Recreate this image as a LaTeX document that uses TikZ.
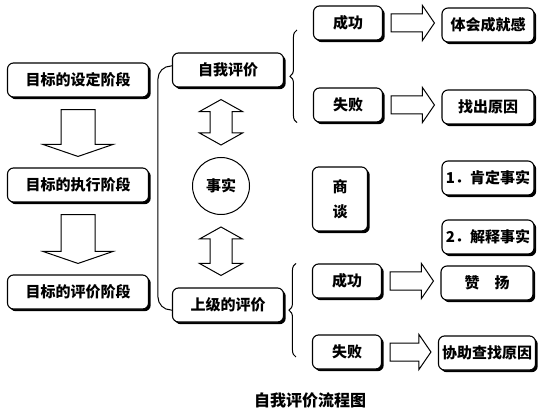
\documentclass[tikz,border=0pt]{standalone}
\usepackage{fontspec}
\newfontfamily\cjk{Noto Sans CJK SC}
\usepackage{tikz}
\usetikzlibrary{calc,%
                shadows,%
                decorations.pathreplacing}

% hollow arrows between two named boxes
\newcommand\downblock[2]{%
  \draw[BlockStyle] let \p1=(#1.south), \p2=(#2.north) in
    (\x1-17pt,\y1-12pt) -- (\x1+17pt,\y1-12pt) -- (\x1+17pt,\y2+23pt)
    -- (\x1+35pt,\y2+23pt) -- (\x1,\y2+11pt) -- (\x1-35pt,\y2+23pt)
    -- (\x1-17pt,\y2+23pt) -- cycle;}
\newcommand\rightblock[2]{%
  \draw[BlockStyle] let \p1=(#1.east), \p2=(#2.west) in
    (\x1+8pt,\y1+9pt) -- (\x2-19pt,\y1+9pt) -- (\x2-19pt,\y1+17.5pt)
    -- (\x2-7pt,\y1) -- (\x2-19pt,\y1-17.5pt) -- (\x2-19pt,\y1-9pt)
    -- (\x1+8pt,\y1-9pt) -- cycle;}
\newcommand\twinblock[3]{%
  \draw[BlockStyle] let \p1=(#1.south), \p2=(#2.north), \p3=(#3) in
    (\x3,\y1-12pt) -- (\x3+21.5pt,\y1-24pt) -- (\x3+11pt,\y1-24pt)
    -- (\x3+11pt,\y2+24pt) -- (\x3+21.5pt,\y2+24pt) -- (\x3,\y2+12pt)
    -- (\x3-21.5pt,\y2+24pt) -- (\x3-11pt,\y2+24pt) -- (\x3-11pt,\y1-24pt)
    -- (\x3-21.5pt,\y1-24pt) -- cycle;}

\begin{document}
\begin{tikzpicture}[x=1pt,y=-1pt]
  \tikzstyle{every node} = [font=\cjk\bfseries\fontsize{15}{18}\selectfont]
  \tikzstyle{BoxStyle} = [draw, line width=1.1pt, rounded corners=6pt,
                          fill=white, minimum height=34pt, inner sep=2pt,
                          drop shadow={shadow xshift=2.2pt, shadow yshift=-2.2pt,
                                       opacity=1, fill=black}]
  \tikzstyle{BlockStyle} = [draw, line width=1pt, fill=white]
  \tikzstyle{BraceStyle} = [draw, line width=1pt, decorate,
                            decoration={brace, amplitude=7pt}]
\useasboundingbox (0,0) rectangle (549,414);

% stages
\node[BoxStyle, minimum width=141pt] (setup) at (78,80) {目标的设定阶段};
\node[BoxStyle, minimum width=141pt] (doing) at (78,185) {目标的执行阶段};
\node[BoxStyle, minimum width=141pt] (judge) at (78,292) {目标的评价阶段};
\downblock{setup}{doing}
\downblock{doing}{judge}

% self and boss
\node[BoxStyle, minimum width=111pt] (self) at (228,70) {自我评价};
\node[draw, circle, line width=1pt, minimum size=57pt] (fact) at (221,186) {事实};
\node[BoxStyle, minimum width=111pt] (boss) at (228,305) {上级的评价};
\twinblock{self}{fact}{fact}
\twinblock{fact}{boss}{fact}
\draw[line width=1pt, rounded corners=13pt]
  ($(self.west)+(0,-4)$) -| ($(boss.west)+(-14,5)$) -- ($(boss.west)+(0,5)$);

% upper branch
\node[BoxStyle, minimum width=69pt] (winA) at (348,23) {成功};
\node[BoxStyle, minimum width=69pt] (loseA) at (348,105) {失败};
\node[BoxStyle, minimum width=92pt] (feel) at (488,25) {体会成就感};
\node[BoxStyle, minimum width=92pt] (cause) at (488,107) {找出原因};
\rightblock{winA}{feel}
\rightblock{loseA}{cause}
\draw[BraceStyle] ($(loseA.south west)+(-16,0)$) -- ($(winA.west)+(-16,7)$);

% talk
\node[BoxStyle, minimum width=55pt, minimum height=64pt, align=center]
  (talk) at (340,199) {商\\[7pt]谈};
\node[BoxStyle, minimum width=92pt] (okFact) at (488,178) {1．肯定事实};
\node[BoxStyle, minimum width=92pt] (why) at (488,237) {2．解释事实};

% lower branch
\node[BoxStyle, minimum width=69pt] (winB) at (347,281) {成功};
\node[BoxStyle, minimum width=69pt] (loseB) at (347,352) {失败};
\node[BoxStyle, minimum width=92pt] (praise) at (487,283) {赞\quad 扬};
\node[BoxStyle, minimum width=97pt] (help) at (487,353) {协助查找原因};
\rightblock{winB}{praise}
\rightblock{loseB}{help}
\draw[BraceStyle] ($(loseB.west)+(-16,5)$) -- ($(winB.north west)+(-16,0)$);

\node[font=\cjk\bfseries\fontsize{16}{18}\selectfont] (title) at (310,400) {自我评价流程图};

\end{tikzpicture}
\end{document}
